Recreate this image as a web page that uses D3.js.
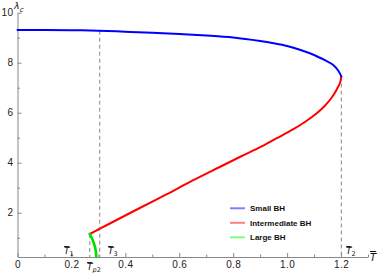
<!DOCTYPE html>
<html>
<head>
<meta charset="utf-8">
<script src="https://cdn.jsdelivr.net/npm/d3@7"></script>
<style>
  body { margin: 0; background: #fff; }
  svg { display: block; font-family: "Liberation Sans", Arial, sans-serif; }
  .axis path, .axis line { stroke: #888; }
  .axis text { fill: #222; font-size: 10px; letter-spacing: 0.4px; }
  .tlab { font-family: "DejaVu Sans", sans-serif; font-style: italic; font-size: 9px; fill: #111; }
  .legend text { font-size: 8px; font-weight: bold; fill: #111; }
</style>
</head>
<body>
<div id="chart"></div>
<script>
// chart size
var svgWidth = 382;
var svgHeight = 273;

// small BH branch (blue)
var smallT = [0, 0.1, 0.2, 0.3, 0.4, 0.5, 0.6, 0.7, 0.8, 0.9, 0.95, 1.0, 1.05, 1.1, 1.14, 1.17, 1.19, 1.201];
var smallL = [9.31, 9.31, 9.30, 9.28, 9.24, 9.20, 9.15, 9.09, 9.01, 8.87, 8.78, 8.67, 8.51, 8.31, 8.10, 7.92, 7.68, 7.45];

// intermediate BH branch (red)
var interT = [1.201, 1.197, 1.185, 1.165, 1.14, 1.11, 1.07, 1.02, 0.96, 0.9, 0.83, 0.75, 0.65, 0.55, 0.45, 0.38, 0.33, 0.3, 0.268];
var interL = [7.45, 7.22, 6.95, 6.6, 6.28, 5.98, 5.66, 5.32, 4.97, 4.62, 4.26, 3.83, 3.29, 2.72, 2.17, 1.78, 1.5, 1.33, 1.15];

// large BH branch (green)
var largeT = [0.268, 0.273, 0.279, 0.285, 0.289, 0.291, 0.292];
var largeL = [1.15, 1.05, 0.9, 0.72, 0.55, 0.4, 0.23];

// dashed guide lines: temperature and top value
var guideT = [0.268, 0.305, 1.201];
var guideTop = [1.15, 9.28, 7.45];

// axis ticks
var xMajor = [0, 0.2, 0.4, 0.6, 0.8, 1.0, 1.2];
var xMinor = [0.1, 0.3, 0.5, 0.7, 0.9, 1.1, 1.3];
var yMajor = [2, 4, 6, 8, 10];
var yMinor = [1, 3, 5, 7, 9];

var legendNames = ["Small BH", "Intermediate BH", "Large BH"];
var legendColors = ["#8080ff", "#ff8080", "#80ff80"];

var svg = d3.select("#chart").append("svg")
    .attr("width", svgWidth)
    .attr("height", svgHeight);

var xScale = d3.scaleLinear().domain([0, 1.3]).range([17.5, 368]);
var yScale = d3.scaleLinear().domain([0.23, 10]).range([257, 12.7]);

// minor ticks first (no labels)
svg.append("g")
    .attr("class", "axis")
    .attr("transform", "translate(0,257)")
    .call(d3.axisBottom(xScale).tickValues(xMinor).tickSizeInner(-2.5).tickSizeOuter(0).tickFormat(""))
    .select(".domain").remove();
svg.append("g")
    .attr("class", "axis")
    .attr("transform", "translate(17.5,0)")
    .call(d3.axisLeft(yScale).tickValues(yMinor).tickSizeInner(-2.5).tickSizeOuter(0).tickFormat(""))
    .select(".domain").remove();

// major ticks + axis lines
svg.append("g")
    .attr("class", "axis")
    .attr("transform", "translate(0,257)")
    .call(d3.axisBottom(xScale).tickValues(xMajor).tickSizeInner(-4).tickSizeOuter(0).tickPadding(3.5)
        .tickFormat(d => d === 0 ? "0" : d3.format(".1f")(d)));
svg.append("g")
    .attr("class", "axis")
    .attr("transform", "translate(17.5,0)")
    .call(d3.axisLeft(yScale).tickValues(yMajor).tickSizeInner(-4).tickSizeOuter(0).tickPadding(4));

// dashed guides
svg.selectAll(".guide")
    .data(guideT)
    .enter()
    .append("line")
    .attr("class", "guide")
    .attr("x1", d => xScale(d))
    .attr("x2", d => xScale(d))
    .attr("y1", (d, i) => yScale(guideTop[i]))
    .attr("y2", yScale(0.23))
    .attr("stroke", "#888")
    .attr("stroke-width", 1)
    .attr("stroke-dasharray", "4,3");

var line = d3.line()
    .x(d => xScale(d[0]))
    .y(d => yScale(d[1]))
    .curve(d3.curveCatmullRom);

function branch(ts, ls, color, width) {
    svg.append("path")
        .datum(ts.map((t, i) => [t, ls[i]]))
        .attr("fill", "none")
        .attr("stroke", color)
        .attr("stroke-width", width)
        .attr("stroke-linecap", "round")
        .attr("d", line);
}
branch(interT, interL, "#ff0000", 2);
branch(smallT, smallL, "#0000ff", 2);
branch(largeT, largeL, "#00e000", 2.6);

// axis labels
var lam = svg.append("text")
    .attr("x", 14)
    .attr("y", 9)
    .attr("class", "tlab")
    .style("font-size", "9.5px");
lam.append("tspan").text("λ");
lam.append("tspan").attr("dy", 2.5).style("font-size", "7px").text("c");

function tLabel(x, y, sub, size) {
    var t = svg.append("text").attr("x", x).attr("y", y).attr("class", "tlab")
        .style("font-size", (size || 9) + "px");
    t.append("tspan").style("text-decoration", "overline").text("T");
    if (sub) t.append("tspan").attr("dy", 2).style("font-size", "6.5px").style("font-style", "normal").text(sub);
    return t;
}
tLabel(64, 254, "1");
tLabel(108, 254, "3");
tLabel(346, 254, "2");
var tp = svg.append("text").attr("x", 87).attr("y", 270).attr("class", "tlab");
tp.append("tspan").style("text-decoration", "overline").text("T");
tp.append("tspan").attr("dy", 2).style("font-size", "6.5px").text("p");
tp.append("tspan").style("font-size", "6.5px").style("font-style", "normal").text("2");
tLabel(370, 261, null, 10);

// legend
var legend = svg.append("g").attr("class", "legend");
legendNames.forEach(function(name, i) {
    var yy = 208.3 + i * 14.5;
    legend.append("line")
        .attr("x1", 230).attr("x2", 245)
        .attr("y1", yy).attr("y2", yy)
        .attr("stroke", legendColors[i])
        .attr("stroke-width", 2);
    legend.append("text")
        .attr("x", 250)
        .attr("y", yy + 3)
        .text(name);
});
</script>
</body>
</html>
